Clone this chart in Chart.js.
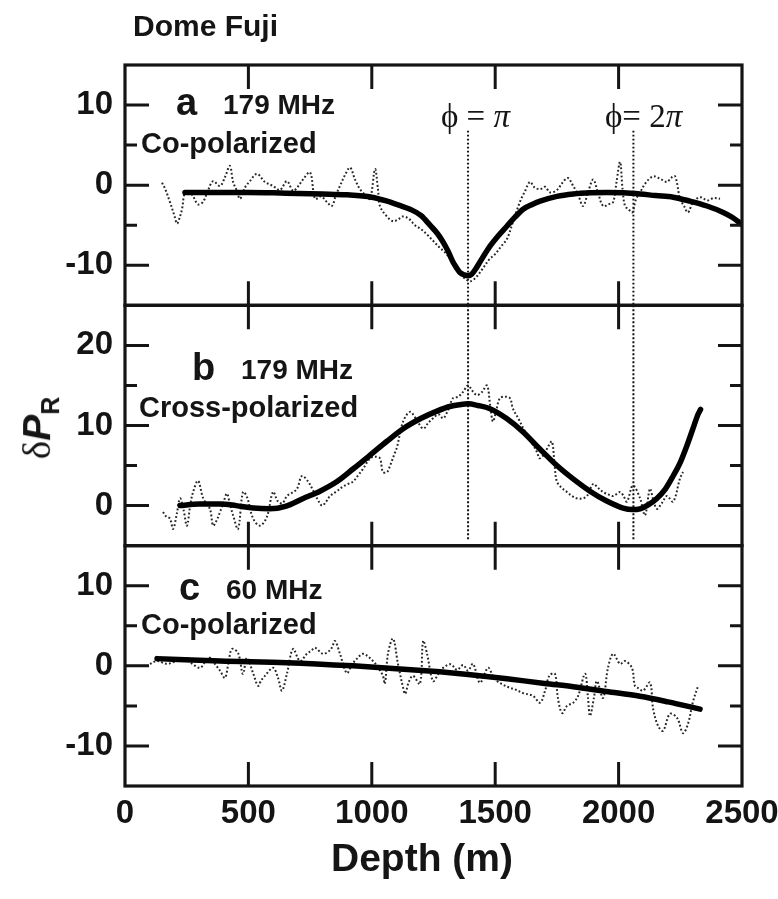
<!DOCTYPE html>
<html><head><meta charset="utf-8">
<script src="https://cdn.jsdelivr.net/npm/chart.js@4"></script>
<style>
html,body{margin:0;padding:0;background:#fff;}
#wrap{position:relative;width:778px;height:899px;overflow:hidden;}
canvas{position:absolute;left:0;top:0;}
.t{position:absolute;font-family:"Liberation Sans",Arial,Helvetica,sans-serif;font-weight:bold;color:#151515;white-space:nowrap;line-height:1;}
.s{position:absolute;font-family:"Liberation Serif","DejaVu Serif",serif;color:#151515;white-space:nowrap;line-height:1;}
</style></head><body>
<div id="wrap">
<canvas id="c" width="778" height="899"></canvas>
<div class="t" style="left:133px;top:11px;font-size:30px">Dome Fuji</div>

<div class="t" style="left:176px;top:83px;font-size:38px">a</div>
<div class="t" style="left:223px;top:91px;font-size:28px">179 MHz</div>
<div class="t" style="left:141px;top:129px;font-size:29px">Co-polarized</div>
<div class="s" style="left:441px;top:100px;font-size:33px">ϕ = <i>π</i></div>
<div class="s" style="left:605px;top:100px;font-size:33px">ϕ= 2<i>π</i></div>

<div class="t" style="left:192px;top:348px;font-size:38px">b</div>
<div class="t" style="left:241px;top:356px;font-size:28px">179 MHz</div>
<div class="t" style="left:139px;top:393px;font-size:29px">Cross-polarized</div>

<div class="t" style="left:179px;top:568px;font-size:38px">c</div>
<div class="t" style="left:226px;top:576px;font-size:28px">60 MHz</div>
<div class="t" style="left:141px;top:610px;font-size:29px">Co-polarized</div>

<div class="t" style="left:331px;top:838px;font-size:39px">Depth (m)</div>
<div style="position:absolute;left:40px;top:428px;transform:translate(-50%,-50%) rotate(-90deg);white-space:nowrap;line-height:1;color:#151515;font-size:39px;"><span style="font-family:'Liberation Serif',serif;">δ</span><span style="font-family:'Liberation Sans',Arial,sans-serif;font-weight:bold;font-style:italic;">P</span><sub style="font-family:'Liberation Sans',Arial,sans-serif;font-weight:bold;font-size:25px;">R</sub></div>
</div>
<script>
// ---- data ----
const depthTicks = [0, 500, 1000, 1500, 2000, 2500];
const ticksA = [-10, 0, 10];
const ticksB = [0, 10, 20];
const ticksC = [-10, 0, 10];
const phaseDepths = [1390, 2060];

// Panel a: 179 MHz co-polarized (measured, dotted)
const depthA = [150,163,182,200,211,222,231,243,260,276,296,316,337,357,385,405,425,438,452,466,486,506,535,567,600,628,656,681,700,721,750,770,795,818,838,855,871,892,912,932,952,973,993,1013,1025,1033,1061,1086,1106,1126,1150,1175,1200,1225,1250,1275,1300,1325,1350,1375,1400,1425,1450,1475,1500,1525,1548,1575,1600,1620,1641,1660,1682,1702,1722,1750,1775,1795,1816,1836,1856,1877,1897,1917,1937,1958,1978,1992,2006,2016,2026,2040,2055,2070,2087,2110,2140,2168,2196,2212,2229,2249,2265,2281,2302,2330,2360,2385,2411];
const valA = [0.3,-0.5,-2.1,-3.8,-4.8,-4.0,-3.0,-0.9,-0.8,-1.4,-2.4,-2.1,-0.6,0.5,-0.1,1.0,2.4,0.4,-0.6,-1.7,-0.3,0.5,1.4,0.4,-0.1,-0.6,0.5,-0.7,-0.2,0.7,1.6,-1.7,-1.4,-2.1,-2.6,-1.2,-0.1,1.3,2.2,0.7,-0.5,-1.2,-1.7,2.0,-0.5,-2.6,-3.9,-4.5,-4.3,-3.9,-4.2,-5.0,-5.5,-6.2,-7.0,-7.8,-8.5,-9.6,-10.8,-11.6,-12.0,-11.4,-10.4,-9.3,-8.6,-7.6,-6.7,-4.3,-2.1,-0.8,0.4,-0.3,-0.5,-0.2,-0.9,-0.6,0.4,0.9,-0.1,-1.2,-2.6,-0.8,0.7,-1.0,-2.6,-2.4,-2.1,0.5,2.9,-0.5,-2.6,-3.0,-3.4,-1.8,-0.9,0.3,1.1,0.8,0.4,0.9,1.1,-1.7,-2.6,-3.4,-2.1,-1.5,-1.9,-1.6,-1.7];
// Panel a model fit
const fitDepthA = [243,350,500,650,800,900,1000,1062,1110,1155,1200,1236,1265,1289,1310,1329,1345,1357,1375,1390,1405,1420,1440,1460,1479,1510,1548,1580,1613,1650,1682,1750,1816,1890,1953,2020,2087,2150,2221,2290,2358,2424,2460,2500];
const fitValA = [-0.9,-0.9,-0.9,-1.0,-1.1,-1.2,-1.5,-2.0,-2.5,-3.0,-3.8,-5.0,-6.0,-7.1,-8.3,-9.6,-10.4,-10.9,-11.2,-11.3,-11.1,-10.5,-9.5,-8.5,-7.6,-6.4,-5.1,-4.0,-3.0,-2.4,-2.0,-1.4,-1.1,-0.95,-0.9,-0.95,-1.1,-1.3,-1.5,-2.0,-2.6,-3.4,-4.0,-4.9];

// Panel b: 179 MHz cross-polarized
const depthB = [154,168,182,195,210,223,237,251,265,276,296,317,344,357,372,385,400,413,425,438,458,478,494,519,547,575,600,620,638,656,677,697,717,742,762,780,798,815,831,858,884,904,924,945,965,993,1013,1033,1045,1062,1074,1090,1102,1127,1155,1180,1208,1228,1248,1270,1289,1310,1329,1350,1370,1390,1408,1426,1447,1467,1480,1491,1505,1519,1540,1560,1572,1595,1620,1645,1669,1680,1700,1715,1730,1742,1750,1770,1791,1811,1831,1852,1872,1897,1917,1937,1958,1978,2006,2020,2034,2058,2087,2107,2127,2140,2155,2175,2196,2221,2249,2261];
const valB = [-0.8,-1.4,-1.6,-2.9,-1.0,0.9,-0.5,-2.5,0.2,1.7,3.1,0.9,-0.4,-2.5,-1.8,-0.8,0.5,1.5,0.2,-1.2,-2.9,1.7,1.1,-1.6,-2.5,-1.4,1.7,0.5,0.3,1.2,1.6,2.1,3.7,3.0,1.9,0.8,0.0,0.5,1.2,1.8,2.4,2.7,3.0,3.8,4.6,5.9,6.1,5.9,4.2,4.2,5.0,6.3,7.3,10.5,11.7,10.8,9.6,10.3,10.9,11.4,10.9,12.0,13.4,13.6,14.2,15.0,14.3,13.8,14.2,15.0,12.4,10.5,12.0,13.4,13.6,13.4,12.1,10.8,9.3,8.0,6.7,5.9,6.5,7.4,8.0,4.6,3.0,2.2,1.7,1.2,0.9,0.9,1.2,2.7,2.2,1.7,1.4,1.2,1.7,1.2,0.5,2.5,0.9,-1.2,2.1,0.8,-0.4,0.3,1.2,0.5,3.4,4.2];
const fitDepthB = [223,300,385,450,520,587,650,722,790,859,925,993,1060,1127,1200,1264,1320,1357,1390,1430,1479,1545,1613,1680,1750,1817,1884,1950,2018,2055,2087,2120,2155,2190,2221,2250,2277,2300,2322,2332];
const fitValB = [0.0,0.2,0.2,0.0,-0.3,-0.4,-0.1,0.9,1.8,3.0,4.6,6.3,8.0,9.6,10.9,11.8,12.4,12.6,12.7,12.5,12.1,10.9,9.2,7.1,5.0,3.3,1.8,0.6,-0.3,-0.5,-0.4,0.1,0.9,2.1,3.7,5.4,7.5,9.5,11.4,12.0];

// Panel c: 60 MHz co-polarized
const depthC = [101,130,170,200,235,270,304,325,344,365,385,405,420,433,458,478,494,519,539,552,567,600,620,636,656,681,709,737,755,770,802,825,838,851,871,899,920,940,965,1005,1025,1045,1053,1066,1086,1106,1127,1135,1150,1167,1195,1208,1224,1248,1270,1289,1320,1345,1370,1390,1410,1438,1471,1490,1507,1535,1560,1585,1613,1653,1682,1702,1720,1742,1754,1771,1791,1816,1836,1864,1876,1884,1900,1912,1937,1957,1978,2006,2026,2054,2066,2080,2099,2127,2140,2160,2180,2208,2237,2261,2281,2302,2322];
const valC = [0.25,0.6,0.25,0.5,0.9,0.3,-0.25,0.5,1.0,0.2,-0.6,-1.5,0.5,2.1,1.6,-1.0,1.0,-0.9,-2.5,-1.8,-1.25,-0.25,-1.5,-3.1,-1.0,2.1,0.6,1.5,1.9,2.25,1.5,1.8,2.25,3.1,1.5,-0.9,0.2,0.9,1.5,0.6,-0.2,-1.25,-2.25,1.6,3.4,0.25,-2.75,-3.5,-2.0,-1.25,-2.25,3.1,1.5,-1.9,-1.0,-0.25,0.2,-0.5,0.1,-0.6,0.25,-2.1,-0.25,-1.2,-1.9,-2.4,-2.75,-3.0,-3.4,-3.75,-4.6,-3.1,-1.2,-1.0,-4.0,-5.9,-5.0,-4.6,-3.75,-1.0,-4.0,-6.25,-4.0,-1.9,-4.0,-0.25,1.5,0.25,0.6,-0.25,-2.5,-2.8,-3.1,-2.1,-5.4,-7.5,-8.1,-6.0,-6.5,-8.4,-7.25,-4.4,-2.5];
const fitDepthC = [130,385,656,924,1100,1276,1400,1548,1700,1816,1950,2087,2200,2330];
const fitValC = [0.9,0.6,0.4,0.0,-0.35,-0.75,-1.1,-1.6,-2.2,-2.6,-3.2,-3.8,-4.5,-5.4];

// ---- helpers ----
const pts = (xs, ys) => xs.map((x, i) => ({x: x, y: ys[i]}));
const INK = '#141414';
const tickFont = {family: "'Liberation Sans', Arial, sans-serif", weight: 'bold', size: 33};

function noisy(xs, ys, axis) {
  return {data: pts(xs, ys), yAxisID: axis, borderColor: '#262626', borderWidth: 2,
    borderDash: [1.8, 2.2], pointRadius: 0, tension: 0.35, fill: false};
}
function fit(xs, ys, axis) {
  return {data: pts(xs, ys), yAxisID: axis, borderColor: '#000', borderWidth: 5.5,
    borderCapStyle: 'round', pointRadius: 0, cubicInterpolationMode: 'monotone', fill: false};
}
function vline(d, y0, y1, axis) {
  return {data: [{x: d, y: y0}, {x: d, y: y1}], yAxisID: axis, borderColor: '#111',
    borderWidth: 2, borderDash: [1.8, 2.2], pointRadius: 0, fill: false};
}

function yScale(min, max, ticks) {
  return {
    type: 'linear', position: 'left', stack: 'panels', stackWeight: 1, min: min, max: max,
    grid: {display: false, drawTicks: false}, border: {display: false},
    ticks: {font: tickFont, color: INK, padding: 12, callback: v => String(v)},
    afterBuildTicks: s => { s.ticks = ticks.map(v => ({value: v})); },
    afterFit: s => { s.width = 125; s.paddingTop = 0; s.paddingBottom = 0; }
  };
}

const framePlugin = {
  id: 'frame',
  afterDatasetsDraw(chart) {
    const ctx = chart.ctx, xs = chart.scales.x;
    const L = chart.chartArea.left, R = chart.chartArea.right;
    const panels = [['yA', -15, 15], ['yB', -5, 25], ['yC', -15, 15]];
    ctx.save();
    ctx.strokeStyle = INK;
    ctx.lineCap = 'butt';
    panels.forEach(([id, mn, mx]) => {
      const s = chart.scales[id];
      ctx.lineWidth = 3;
      for (let v = mn + 5; v < mx; v += 5) {
        const py = s.getPixelForValue(v);
        const len = (v % 10 === 0) ? 24 : 12;
        ctx.beginPath();
        ctx.moveTo(L, py); ctx.lineTo(L + len, py);
        ctx.moveTo(R, py); ctx.lineTo(R - len, py);
        ctx.stroke();
      }
      depthTicks.slice(1, -1).forEach(d => {
        const px = xs.getPixelForValue(d);
        ctx.beginPath();
        ctx.moveTo(px, s.top); ctx.lineTo(px, s.top + 24);
        ctx.moveTo(px, s.bottom); ctx.lineTo(px, s.bottom - 24);
        ctx.stroke();
      });
      ctx.lineWidth = 3.2;
      ctx.strokeRect(L, s.top, R - L, s.bottom - s.top);
    });
    ctx.restore();
  }
};

new Chart(document.getElementById('c'), {
  type: 'line',
  data: {
    datasets: [
      fit(fitDepthA, fitValA, 'yA'),
      fit(fitDepthB, fitValB, 'yB'),
      fit(fitDepthC, fitValC, 'yC'),
      noisy(depthA, valA, 'yA'),
      noisy(depthB, valB, 'yB'),
      noisy(depthC, valC, 'yC'),
      vline(phaseDepths[0], 6.8, -15, 'yA'),
      vline(phaseDepths[1], 6.8, -15, 'yA'),
      vline(phaseDepths[0], 25, -4.2, 'yB'),
      vline(phaseDepths[1], 25, -4.2, 'yB')
    ]
  },
  options: {
    responsive: false, animation: false, devicePixelRatio: 1,
    layout: {padding: {left: 0, right: 36, top: 65, bottom: 0}},
    plugins: {legend: {display: false}, tooltip: {enabled: false}, title: {display: false}},
    scales: {
      x: {
        type: 'linear', position: 'bottom', min: 0, max: 2500,
        grid: {display: false, drawTicks: false}, border: {display: false},
        ticks: {font: tickFont, color: INK, padding: 8, maxRotation: 0, autoSkip: false, callback: v => String(v)},
        afterBuildTicks: s => { s.ticks = depthTicks.map(v => ({value: v})); },
        afterFit: s => { s.height = 113; s.paddingLeft = 0; s.paddingRight = 0; }
      },
      yC: yScale(-15, 15, ticksC),
      yB: yScale(-5, 25, ticksB),
      yA: yScale(-15, 15, ticksA)
    }
  },
  plugins: [framePlugin]
});
</script>
</body></html>
